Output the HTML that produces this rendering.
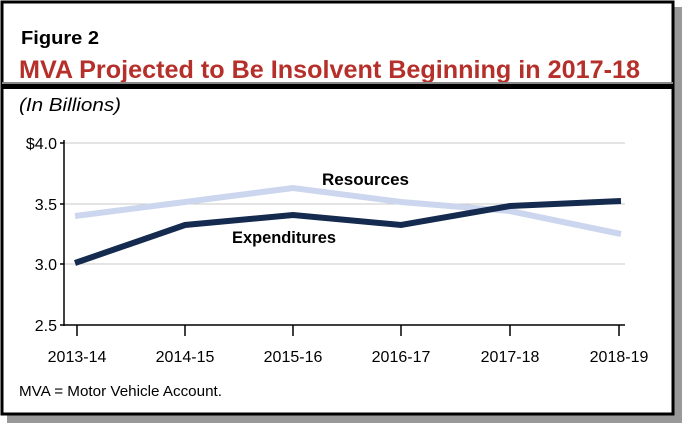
<!DOCTYPE html>
<html><head><meta charset="utf-8"><style>
html,body{margin:0;padding:0;background:#fff;}
svg{display:block;font-family:"Liberation Sans",Arial,sans-serif;}
</style></head><body>
<svg width="682" height="423" viewBox="0 0 682 423" xmlns="http://www.w3.org/2000/svg">
<rect x="7" y="7" width="675" height="416" fill="#999"/>
<rect x="2" y="2" width="671" height="412" fill="#fff" stroke="#000" stroke-width="3"/>
<text x="21" y="44" font-size="18" font-weight="bold" fill="#000" textLength="78" lengthAdjust="spacingAndGlyphs">Figure 2</text>
<text x="19" y="78" font-size="25" font-weight="bold" fill="#b5302a" textLength="621" lengthAdjust="spacingAndGlyphs">MVA Projected to Be Insolvent Beginning in 2017-18</text>
<rect x="2" y="82" width="671" height="2" fill="#888"/>
<rect x="2" y="84" width="671" height="5" fill="#000"/>
<text x="19" y="111" font-size="18" font-style="italic" fill="#000" textLength="102" lengthAdjust="spacingAndGlyphs">(In Billions)</text>
<g stroke="#c8c8c8" stroke-width="1">
<line x1="64" y1="143" x2="625" y2="143"/>
<line x1="64" y1="204" x2="625" y2="204"/>
<line x1="64" y1="264" x2="625" y2="264"/>
</g>
<line x1="64" y1="325" x2="625" y2="325" stroke="#000" stroke-width="1.5"/>
<line x1="64" y1="140" x2="64" y2="326" stroke="#000" stroke-width="1.5"/>
<g stroke="#000" stroke-width="1.5">
<line x1="60" y1="143" x2="64" y2="143"/><line x1="60" y1="204" x2="64" y2="204"/>
<line x1="60" y1="264" x2="64" y2="264"/><line x1="60" y1="325" x2="64" y2="325"/>
<line x1="77" y1="325" x2="77" y2="336"/><line x1="185" y1="325" x2="185" y2="336"/>
<line x1="293" y1="325" x2="293" y2="336"/><line x1="401" y1="325" x2="401" y2="336"/>
<line x1="510" y1="325" x2="510" y2="336"/><line x1="619" y1="325" x2="619" y2="336"/>
</g>
<g font-size="16" fill="#000" text-anchor="end">
<text x="57" y="149">$4.0</text><text x="57" y="210">3.5</text>
<text x="57" y="270">3.0</text><text x="57" y="331">2.5</text>
</g>
<g font-size="16" fill="#000" text-anchor="middle">
<text x="77" y="362">2013-14</text><text x="185" y="362">2014-15</text>
<text x="293" y="362">2015-16</text><text x="401" y="362">2016-17</text>
<text x="510" y="362">2017-18</text><text x="619" y="362">2018-19</text>
</g>
<polyline points="75,216 185,202 293,188 401,202 510,211 621,234" fill="none" stroke="#ccd6ee" stroke-width="6"/>
<polyline points="75,263 185,225 293,215 401,225 510,206 621,201" fill="none" stroke="#142a4e" stroke-width="6"/>
<text x="322" y="185" font-size="16.5" font-weight="bold" fill="#000" textLength="87" lengthAdjust="spacingAndGlyphs">Resources</text>
<text x="232" y="243" font-size="16.5" font-weight="bold" fill="#000" textLength="104" lengthAdjust="spacingAndGlyphs">Expenditures</text>
<text x="19" y="396" font-size="14.5" fill="#000" textLength="203" lengthAdjust="spacingAndGlyphs">MVA = Motor Vehicle Account.</text>
</svg>
</body></html>
